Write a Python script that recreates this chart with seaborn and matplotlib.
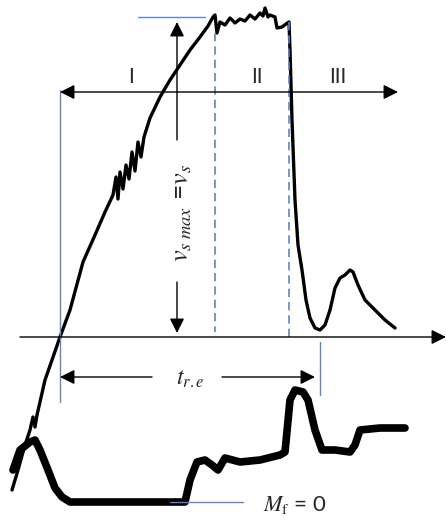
import matplotlib
matplotlib.use("Agg")
import matplotlib.pyplot as plt
import seaborn as sns
import numpy as np

sns.set_theme(style="white")
plt.rcParams['font.family'] = ['Lato', 'DejaVu Sans']
plt.rcParams['mathtext.fontset'] = 'stix'

# Velocity trace v_s (time, value)
vs_t = [12, 18, 25, 30, 33, 35, 37, 45, 52, 60, 70, 83, 95, 105, 113, 116, 118, 120, 123, 126,
        129, 132, 135, 138, 141, 144, 150, 160, 170, 180, 190, 200, 208, 213, 215, 217, 220,
        225, 230, 235, 240, 245, 250, 255, 260, 263, 265, 268, 270, 275, 277, 282, 286, 289,
        290, 292, 295, 298, 302, 306, 310, 315, 320, 325, 330, 335, 340, 345, 350, 353, 358,
        365, 375, 385, 395]
vs_v = [-153, -133, -108, -93, -80, -90, -78, -43, -23, 0, 27, 75, 102, 125, 142, 160, 138, 165,
        148, 172, 158, 185, 166, 195, 180, 200, 219, 240, 257, 272, 287, 300, 311, 320, 322, 304,
        315, 312, 319, 314, 318, 316, 322, 318, 324, 321, 329, 320, 322, 320, 309, 310, 313, 315,
        287, 217, 137, 92, 67, 37, 19, 9, 7, 12, 27, 49, 59, 62, 67, 65, 52, 37, 27, 17, 9]

# Friction moment trace M_f
mf_t = [13, 20, 30, 35, 40, 48, 55, 62, 70, 80, 90, 100, 110, 120, 130, 140, 150, 160, 170,
        185, 190, 197, 205, 212, 218, 225, 240, 260, 280, 285, 290, 295, 303, 308, 315, 322,
        335, 350, 355, 360, 380, 405]
mf_v = [-133, -113, -105, -103, -113, -133, -151, -160, -165, -165, -165, -165, -165, -165,
        -165, -165, -165, -165, -165, -165, -143, -125, -123, -128, -133, -121, -125, -123,
        -118, -115, -63, -53, -55, -63, -93, -113, -113, -115, -108, -93, -91, -91]

blue = '#5a86c5'

fig = plt.figure(figsize=(4.46, 5.2), dpi=100)
ax = fig.add_axes([0, 0, 1, 1])
ax.set_xlim(0, 446)
ax.set_ylim(-183, 337)
ax.axis('off')

sns.lineplot(x=vs_t, y=vs_v, ax=ax, color='black', lw=2.4, sort=False, estimator=None)
sns.lineplot(x=mf_t, y=mf_v, ax=ax, color='black', lw=5.5, sort=False, estimator=None)

arrow = dict(arrowstyle='-|>', color='black', lw=1.0, mutation_scale=22, shrinkA=0, shrinkB=0)
darrow = dict(arrowstyle='<|-|>', color='black', lw=1.0, mutation_scale=22, shrinkA=0, shrinkB=0)

# time axis
ax.annotate('', xy=(446, 0), xytext=(20, 0), arrowprops=arrow)
# regions arrow
ax.annotate('', xy=(398, 245), xytext=(60, 245), arrowprops=darrow)
# vertical v_s arrow
ax.annotate('', xy=(177, 315), xytext=(177, 197), arrowprops=arrow)
ax.annotate('', xy=(177, 4), xytext=(177, 55), arrowprops=arrow)
# t_r.e arrow
ax.annotate('', xy=(60, -40), xytext=(152, -40), arrowprops=arrow)
ax.annotate('', xy=(315, -40), xytext=(222, -40), arrowprops=arrow)

# blue helper lines
ax.plot([138, 205], [320, 320], color=blue, lw=1)
ax.plot([60, 60], [247, -65], color=blue, lw=1)
ax.plot([215, 215], [304, 5], color=blue, lw=1.2, ls=(0, (5, 3)))
ax.plot([289, 289], [315, 0], color=blue, lw=1.2, ls=(0, (5, 3)))
ax.plot([320, 320], [-5, -58], color=blue, lw=1)
ax.plot([170, 243], [-165, -165], color=blue, lw=1)

# texts
ax.text(131, 260, 'I', fontsize=15, ha='center', va='center')
ax.text(257, 260, 'II', fontsize=15, ha='center', va='center')
ax.text(338, 260, 'III', fontsize=15, ha='center', va='center')
ax.text(181, 124, r'$v_{s\ max}$ =$v_s$', fontsize=19, rotation=90, ha='center', va='center')
ax.text(190, -42, r'$t_{r.e}$', fontsize=17, ha='center', va='center')
ax.text(263, -168, r'$M_\mathrm{f}$ = 0', fontsize=16, ha='left', va='center')

fig.savefig('out.png', dpi=100)
